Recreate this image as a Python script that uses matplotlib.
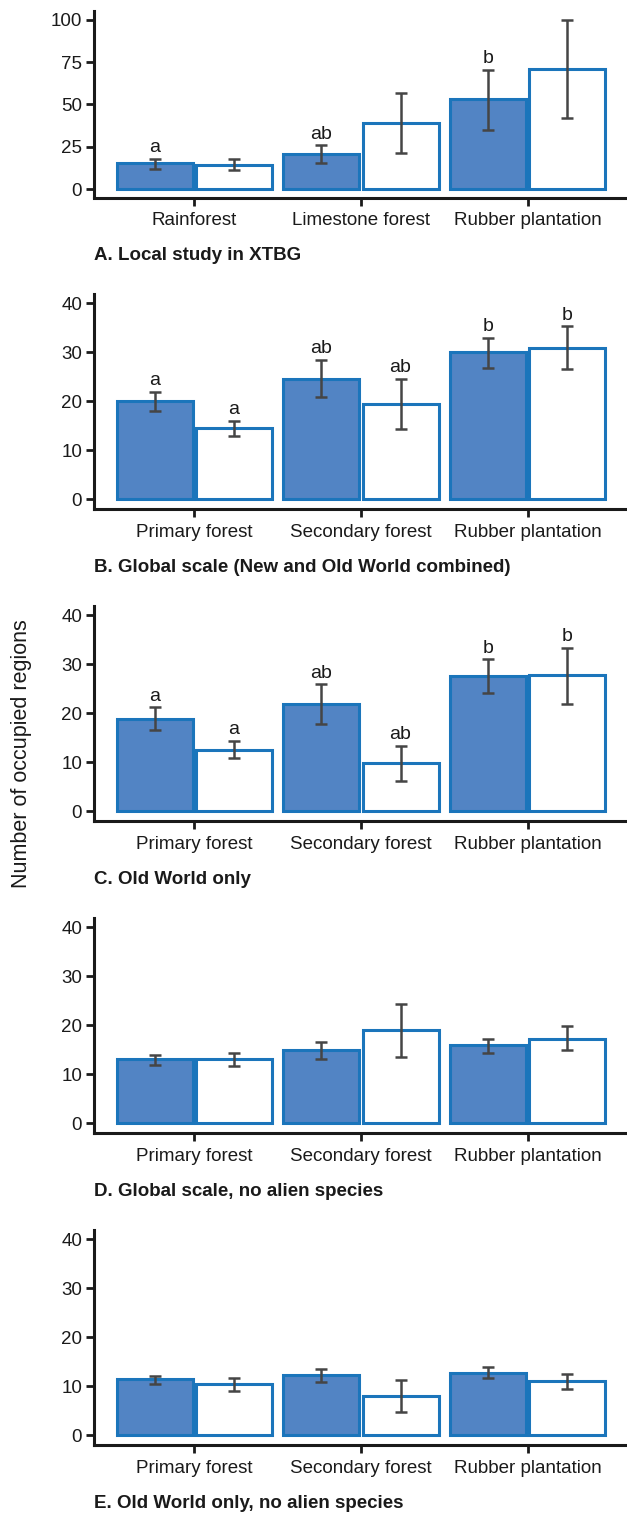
import matplotlib
matplotlib.use("Agg")
import matplotlib.pyplot as plt
import numpy as np

plt.rcParams["font.family"] = ["Liberation Sans", "DejaVu Sans"]

FILL = "#5284c4"
EDGE = "#1b75bb"
ERR = "#454545"
TXT = "#1a1a1a"

groups_a = ["Rainforest", "Limestone forest", "Rubber plantation"]
groups = ["Primary forest", "Secondary forest", "Rubber plantation"]

# A. Local study in XTBG
a_fill = [15.3, 20.8, 53.0]
a_fill_lo = [12.1, 15.3, 34.7]
a_fill_hi = [17.7, 25.8, 70.6]
a_open = [14.5, 39.3, 70.8]
a_open_lo = [11.1, 21.2, 42.1]
a_open_hi = [17.7, 56.9, 100.0]
a_let_fill = ["a", "ab", "b"]
a_let_open = ["", "", ""]

# B. Global scale
b_fill = [20.0, 24.6, 30.0]
b_fill_lo = [18.0, 20.8, 26.8]
b_fill_hi = [22.0, 28.4, 32.9]
b_open = [14.5, 19.5, 30.9]
b_open_lo = [13.0, 14.4, 26.5]
b_open_hi = [16.0, 24.6, 35.3]
b_let_fill = ["a", "ab", "b"]
b_let_open = ["a", "ab", "b"]

# C. Old World only
c_fill = [18.9, 22.0, 27.6]
c_fill_lo = [16.6, 17.9, 24.1]
c_fill_hi = [21.2, 25.9, 31.0]
c_open = [12.6, 9.8, 27.8]
c_open_lo = [10.9, 6.2, 22.0]
c_open_hi = [14.3, 13.4, 33.4]
c_let_fill = ["a", "ab", "b"]
c_let_open = ["a", "ab", "b"]

# D. Global scale, no alien species
d_fill = [13.1, 14.9, 15.9]
d_fill_lo = [12.0, 13.1, 14.4]
d_fill_hi = [13.9, 16.6, 17.3]
d_open = [13.1, 19.0, 17.3]
d_open_lo = [11.7, 13.5, 14.9]
d_open_hi = [14.4, 24.3, 19.8]

# E. Old World only, no alien species
e_fill = [11.4, 12.3, 12.8]
e_fill_lo = [10.5, 10.9, 11.7]
e_fill_hi = [12.2, 13.6, 14.0]
e_open = [10.4, 8.1, 11.0]
e_open_lo = [9.0, 4.7, 9.4]
e_open_hi = [11.6, 11.3, 12.6]

no_let = ["", "", ""]

panels = [
    ("A. Local study in XTBG", groups_a, a_fill, a_fill_lo, a_fill_hi,
     a_open, a_open_lo, a_open_hi, a_let_fill, a_let_open, [0, 25, 50, 75, 100]),
    ("B. Global scale (New and Old World combined)", groups, b_fill, b_fill_lo, b_fill_hi,
     b_open, b_open_lo, b_open_hi, b_let_fill, b_let_open, [0, 10, 20, 30, 40]),
    ("C. Old World only", groups, c_fill, c_fill_lo, c_fill_hi,
     c_open, c_open_lo, c_open_hi, c_let_fill, c_let_open, [0, 10, 20, 30, 40]),
    ("D. Global scale, no alien species", groups, d_fill, d_fill_lo, d_fill_hi,
     d_open, d_open_lo, d_open_hi, no_let, no_let, [0, 10, 20, 30, 40]),
    ("E. Old World only, no alien species", groups, e_fill, e_fill_lo, e_fill_hi,
     e_open, e_open_lo, e_open_hi, no_let, no_let, [0, 10, 20, 30, 40]),
]

W, H = 627, 1513
fig = plt.figure(figsize=(W / 100, H / 100), dpi=100)

# axes boxes in pixels: (top, bottom)
boxes = [(11.5, 197.5), (293.5, 509.1), (605.5, 821.1), (917.5, 1133.1), (1229.5, 1445.1)]
left_px, right_px = 94, 628

off, width = 0.237, 0.455

for (title, cats, fv, flo, fhi, ov, olo, ohi, flet, olet, yt), (top, bot) in zip(panels, boxes):
    ax = fig.add_axes([left_px / W, 1 - bot / H, (right_px - left_px) / W, (bot - top) / H])
    x = np.arange(1, len(cats) + 1)
    ymax = yt[-1]
    pad = ymax * 0.05

    for xs, vals, lo, hi, face, lets in [(x - off, fv, flo, fhi, FILL, flet),
                                         (x + off, ov, olo, ohi, "white", olet)]:
        ax.bar(xs, vals, width=width, color=face, edgecolor=EDGE, linewidth=2.2, zorder=2)
        vals = np.array(vals)
        yerr = [vals - np.array(lo), np.array(hi) - vals]
        ax.errorbar(xs, vals, yerr=yerr, fmt="none", ecolor=ERR, elinewidth=1.8,
                    capsize=4.5, capthick=1.8, zorder=3)
        for xi, h, t in zip(xs, hi, lets):
            if t:
                ax.annotate(t, (xi, h), xytext=(0, 2), textcoords="offset points",
                            ha="center", va="bottom", fontsize=14, color=TXT)

    ax.set_xlim(0.4, 3.6)
    ax.set_ylim(-pad, ymax + pad)
    ax.set_xticks(x)
    ax.set_xticklabels(cats)
    ax.set_yticks(yt)
    for s in ["top", "right"]:
        ax.spines[s].set_visible(False)
    for s in ["left", "bottom"]:
        ax.spines[s].set_linewidth(2.2)
        ax.spines[s].set_color(TXT)
    ax.tick_params(axis="both", length=5.5, width=2.0, color=TXT, labelsize=13.5,
                   labelcolor=TXT)
    ax.tick_params(axis="x", pad=5)
    ax.tick_params(axis="y", pad=3)
    ax.annotate(title, (0, 0), xycoords="axes fraction", xytext=(0, -58.5),
                textcoords="offset pixels", ha="left", va="center",
                fontsize=13.5, fontweight="bold", color=TXT)

fig.text(22 / W, 1 - 753.5 / H, "Number of occupied regions", rotation=90,
         ha="center", va="center", fontsize=15.5, color=TXT)

fig.savefig("out.png", dpi=100)
